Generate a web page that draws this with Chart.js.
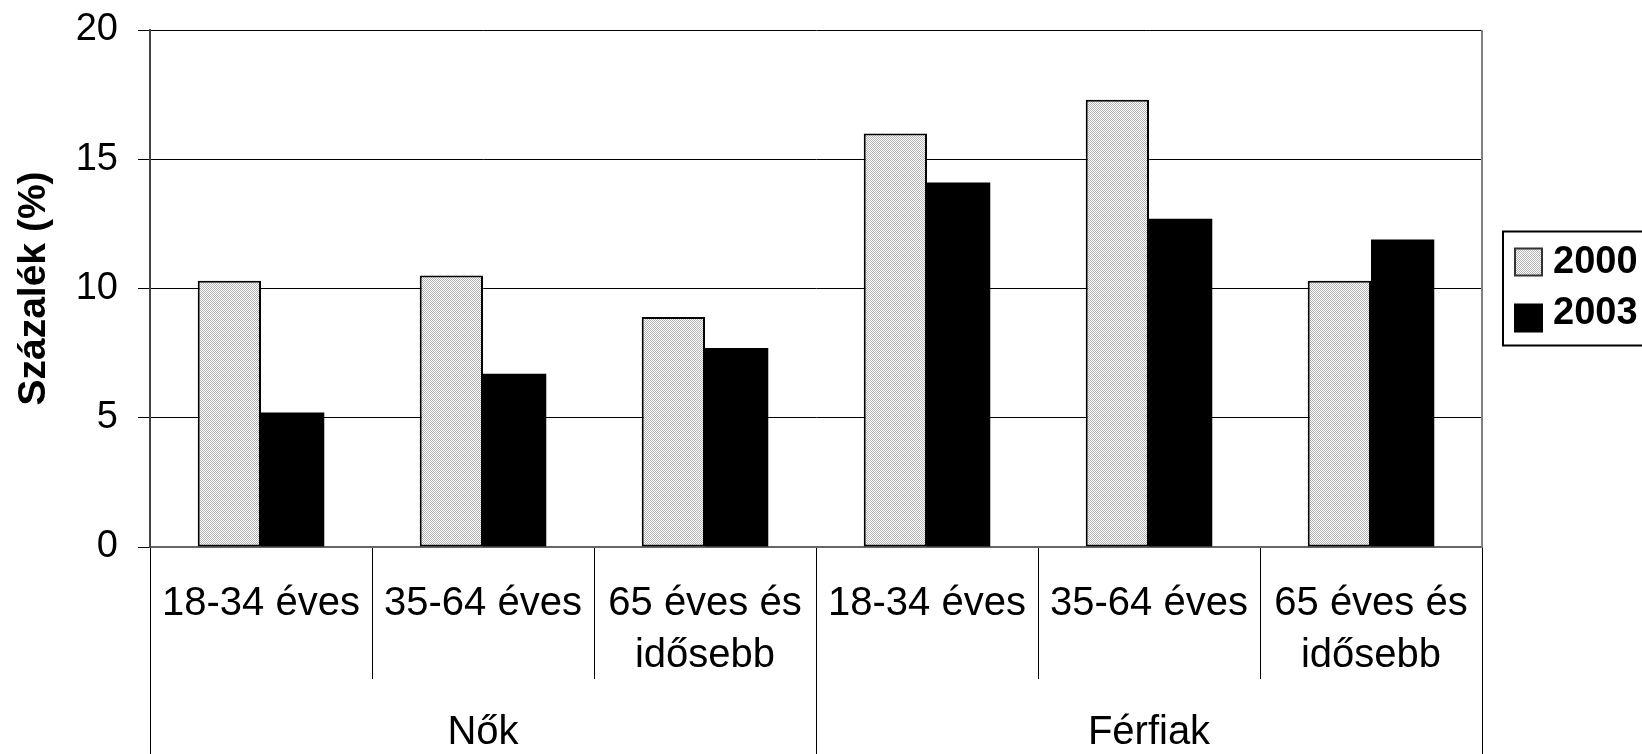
<!DOCTYPE html>
<html>
<head>
<meta charset="utf-8">
<script src="https://cdn.jsdelivr.net/npm/chart.js@4/dist/chart.umd.min.js"></script>
<style>
  html, body { margin: 0; padding: 0; background: #fff; overflow: hidden; }
</style>
</head>
<body>
<canvas id="chart" width="1642" height="754"></canvas>
<script>
// Data
const ageGroups = ['18-34 éves', '35-64 éves', ['65 éves és', 'idősebb'], '18-34 éves', '35-64 éves', ['65 éves és', 'idősebb']];
const sexGroups = ['Nők', 'Férfiak'];
const seriesNames = ['2000', '2003'];
const values2000 = [10.3, 10.5, 8.9, 16.0, 17.3, 10.3];
const values2003 = [5.2, 6.7, 7.7, 14.1, 12.7, 11.9];
const yTicks = [0, 5, 10, 15, 20];
const yTitle = 'Százalék (%)';

const fontFamily = "'Liberation Sans', Arial, sans-serif";
Chart.defaults.font.family = fontFamily;
Chart.defaults.color = '#000';

// dotted grey fill like the old Excel pattern
function makeDots() {
  const c = document.createElement('canvas');
  c.width = 2;
  c.height = 2;
  const g = c.getContext('2d');
  g.fillStyle = '#fff';
  g.fillRect(0, 0, 2, 2);
  g.fillStyle = '#b4b4b4';
  g.fillRect(0, 0, 1, 1);
  g.fillRect(1, 1, 1, 1);
  return g.createPattern(c, 'repeat');
}
const dots = makeDots();

// right frame line + boxed legend
const frameAndLegend = {
  id: 'frameAndLegend',
  afterDraw(chart) {
    const { ctx, chartArea } = chart;
    ctx.save();
    ctx.strokeStyle = '#808080';
    ctx.lineWidth = 2;
    ctx.beginPath();
    ctx.moveTo(chartArea.right, chartArea.top);
    ctx.lineTo(chartArea.right, chartArea.bottom);
    ctx.stroke();

    const midY = (chartArea.top + chartArea.bottom) / 2;
    const left = chartArea.right + 21;
    ctx.strokeStyle = '#000';
    ctx.lineWidth = 2;
    ctx.strokeRect(left, midY - 57, chart.width - left + 20, 114);

    const textRows = [midY - 27, midY + 24];
    const boxRows = [midY - 27, midY + 29];
    chart.data.datasets.forEach((ds, i) => {
      const y = boxRows[i];
      ctx.fillStyle = ds.backgroundColor;
      ctx.fillRect(left + 12, y - 13, 27, 27);
      ctx.strokeStyle = i === 0 ? '#333' : '#000';
      ctx.lineWidth = 2;
      ctx.strokeRect(left + 12, y - 13, 27, 27);
      ctx.fillStyle = '#000';
      ctx.font = 'bold 38px ' + fontFamily;
      ctx.textBaseline = 'middle';
      ctx.textAlign = 'left';
      ctx.fillText(ds.label, left + 50, textRows[i] + 1);
    });
    ctx.restore();
  }
};

new Chart(document.getElementById('chart'), {
  type: 'bar',
  data: {
    labels: ageGroups,
    datasets: [
      {
        label: seriesNames[0],
        data: values2000,
        backgroundColor: dots,
        borderColor: '#000',
        borderWidth: 2,
        borderSkipped: false
      },
      {
        label: seriesNames[1],
        data: values2003,
        backgroundColor: '#000',
        borderColor: '#000',
        borderWidth: 0
      }
    ]
  },
  options: {
    responsive: false,
    animation: false,
    devicePixelRatio: 1,
    layout: { padding: { top: 30, right: 160, left: 0, bottom: 0 } },
    plugins: {
      legend: { display: false },
      tooltip: { enabled: false }
    },
    datasets: {
      bar: { categoryPercentage: 0.57, barPercentage: 1.0 }
    },
    scales: {
      x: {
        position: 'bottom',
        weight: 0,
        offset: true,
        grid: {
          offset: true,
          drawOnChartArea: false,
          drawTicks: true,
          tickLength: 132,
          color: '#000',
          lineWidth: 1
        },
        border: { display: true, color: '#666', width: 2 },
        ticks: {
          autoSkip: false,
          maxRotation: 0,
          padding: -101,
          font: { size: 40, lineHeight: 1.3 },
          color: '#000'
        },
        afterFit(scale) { scale.height = 132; }
      },
      x2: {
        type: 'category',
        labels: sexGroups,
        position: 'bottom',
        weight: 1,
        offset: true,
        grid: {
          offset: true,
          drawOnChartArea: false,
          drawTicks: true,
          tickLength: 75,
          color: '#000',
          lineWidth: 1
        },
        border: { display: false },
        ticks: {
          autoSkip: false,
          maxRotation: 0,
          padding: -47,
          font: { size: 40, lineHeight: 1.3 },
          color: '#000'
        },
        afterFit(scale) { scale.height = 75; }
      },
      y: {
        min: yTicks[0],
        max: yTicks[yTicks.length - 1],
        ticks: {
          stepSize: yTicks[1] - yTicks[0],
          padding: 20,
          font: { size: 38 },
          color: '#000'
        },
        grid: {
          color: '#000',
          lineWidth: 1,
          drawTicks: true,
          tickLength: 12
        },
        border: { display: true, color: '#444', width: 2 },
        title: {
          display: true,
          text: yTitle,
          font: { size: 39, weight: 'bold' },
          padding: { top: 11, bottom: 0 },
          color: '#000'
        },
        afterFit(scale) {
          scale.width = 150;
          // tick padding would otherwise push the plot top down
          scale.paddingTop = 10;
          scale.paddingBottom = 10;
        }
      }
    }
  },
  plugins: [frameAndLegend]
});
</script>
</body>
</html>
